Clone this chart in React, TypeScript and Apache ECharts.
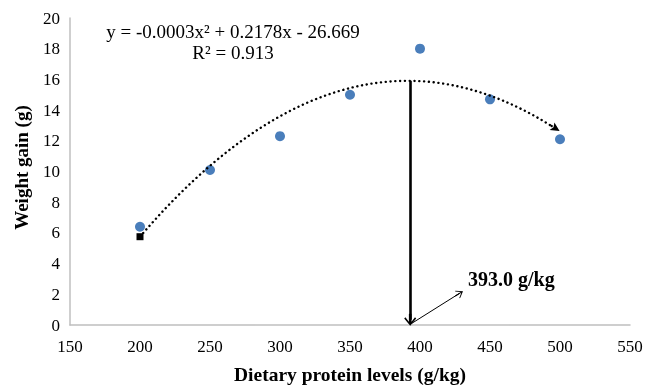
import React, { useEffect, useRef } from "react";
import * as echarts from "echarts";

const proteinLevels = [200, 250, 300, 350, 400, 450, 500];
const weightGain = [6.4, 10.1, 12.3, 15.0, 18.0, 14.7, 12.1];
const xTicks = { min: 150, max: 550, interval: 50 };
const yTicks = { min: 0, max: 20, interval: 2 };
const optimumLevel = 393;
const equationText = "y = -0.0003x² + 0.2178x - 26.669";
const r2Text = "R² = 0.913";
const optimumText = "393.0 g/kg";

// least-squares quadratic fit (trendline) from the data
function fitQuadratic(xs: number[], ys: number[]) {
  const s = [0, 0, 0, 0, 0];
  const t = [0, 0, 0];
  for (let i = 0; i < xs.length; i++) {
    let p = 1;
    for (let k = 0; k < 5; k++) {
      s[k] += p;
      if (k < 3) t[k] += p * ys[i];
      p *= xs[i];
    }
  }
  const M = [
    [s[0], s[1], s[2], t[0]],
    [s[1], s[2], s[3], t[1]],
    [s[2], s[3], s[4], t[2]],
  ];
  for (let c = 0; c < 3; c++) {
    for (let r = c + 1; r < 3; r++) {
      const f = M[r][c] / M[c][c];
      for (let k = c; k < 4; k++) M[r][k] -= f * M[c][k];
    }
  }
  const sol = [0, 0, 0];
  for (let r = 2; r >= 0; r--) {
    let v = M[r][3];
    for (let k = r + 1; k < 3; k++) v -= M[r][k] * sol[k];
    sol[r] = v / M[r][r];
  }
  return (x: number) => sol[0] + sol[1] * x + sol[2] * x * x;
}

const FONT = "'Liberation Serif', 'Times New Roman', serif";
const STEM_THICK =
  "path://M5,0 L10,6 L9,7 L6.1,3.3 L6.1,10 L3.9,10 L3.9,3.3 L1,7 L0,6 Z";
const STEM_THIN =
  "path://M5,0 L10,7 L9.3,7.6 L5.6,2.6 L5.6,10 L4.4,10 L4.4,2.6 L0.7,7.6 L0,7 Z";
const SOLID_HEAD = "path://M5,0 L10,10 L5,8 L0,10 Z";

export default function App() {
  const ref = useRef<HTMLDivElement>(null);
  useEffect(() => {
    if (!ref.current) return;
    const chart = echarts.init(ref.current, undefined, { renderer: "svg" });
    const f = fitQuadratic(proteinLevels, weightGain);
    const x0 = proteinLevels[0];
    const x1 = proteinLevels[proteinLevels.length - 1];
    const curve: number[][] = [];
    for (let x = x0; x <= x1 - 6; x += 2) curve.push([x, f(x)]);
    const peak = f(optimumLevel);

    chart.setOption({
      animation: false,
      grid: { left: 70, right: 18, top: 18, bottom: 62, outerBoundsMode: "none", containLabel: false },
      xAxis: {
        type: "value",
        min: xTicks.min,
        max: xTicks.max,
        interval: xTicks.interval,
        name: "Dietary protein levels (g/kg)",
        nameLocation: "middle",
        nameGap: 39,
        nameTextStyle: { fontFamily: FONT, fontSize: 19.5, fontWeight: "bold", color: "#000" },
        axisLine: { lineStyle: { color: "#bfbfbf", width: 1.5 } },
        axisTick: { show: false },
        splitLine: { show: false },
        axisLabel: { fontFamily: FONT, fontSize: 17, color: "#000", margin: 13 },
      },
      yAxis: {
        type: "value",
        min: yTicks.min,
        max: yTicks.max,
        interval: yTicks.interval,
        name: "Weight gain (g)",
        nameLocation: "middle",
        nameGap: 39,
        nameTextStyle: {
          fontFamily: FONT,
          fontSize: 19,
          fontWeight: "bold",
          color: "#000",
          padding: [0, 0, 0, 8],
        },
        axisLine: { show: true, lineStyle: { color: "#bfbfbf", width: 1.5 } },
        axisTick: { show: false },
        splitLine: { show: false },
        axisLabel: { fontFamily: FONT, fontSize: 17, color: "#000", margin: 10 },
      },
      series: [
        {
          type: "scatter",
          data: proteinLevels.map((x, i) => [x, weightGain[i]]),
          symbol: "circle",
          symbolSize: 10,
          itemStyle: { color: "#4a7ebb", opacity: 1 },
          z: 2,
        },
        {
          type: "line",
          data: curve,
          showSymbol: false,
          smooth: false,
          lineStyle: { color: "#000", width: 2.4, type: [0.1, 4.7], cap: "round" },
          z: 3,
        },
        {
          type: "scatter",
          data: [[x0, f(x0)]],
          symbol: "rect",
          symbolSize: 7,
          itemStyle: { color: "#000", opacity: 1 },
          z: 4,
        },
        {
          type: "lines",
          coordinateSystem: "cartesian2d",
          data: [{ coords: [curve[curve.length - 1], [x1 - 3, f(x1 - 3)]] }],
          symbol: ["none", SOLID_HEAD],
          symbolSize: 9,
          lineStyle: { color: "#000", width: 2.4, type: [0.1, 4.7], cap: "round", opacity: 1 },
          z: 4,
        },
        {
          type: "lines",
          coordinateSystem: "cartesian2d",
          data: [{ coords: [[optimumLevel, peak], [optimumLevel, 0.35]] }],
          symbol: ["none", STEM_THICK],
          symbolSize: 12,
          lineStyle: { color: "#000", width: 2.6, opacity: 1 },
          z: 5,
        },
        {
          type: "lines",
          coordinateSystem: "cartesian2d",
          data: [{ coords: [[optimumLevel + 1, 0.1], [428, 2.05]] }],
          symbol: ["none", STEM_THIN],
          symbolSize: 9,
          lineStyle: { color: "#000", width: 1, opacity: 1 },
          z: 5,
        },
      ],
      graphic: [
        {
          type: "text",
          x: 233,
          y: 31,
          style: {
            text: equationText,
            font: `19px ${FONT}`,
            fill: "#000",
            align: "center",
            verticalAlign: "middle",
          },
        },
        {
          type: "text",
          x: 233,
          y: 52,
          style: {
            text: r2Text,
            font: `19px ${FONT}`,
            fill: "#000",
            align: "center",
            verticalAlign: "middle",
          },
        },
        {
          type: "text",
          x: 468,
          y: 279,
          style: {
            text: optimumText,
            font: `bold 20px ${FONT}`,
            fill: "#000",
            align: "left",
            verticalAlign: "middle",
          },
        },
      ],
    });
    return () => chart.dispose();
  }, []);
  return (
    <div
      ref={ref}
      style={{ position: "fixed", left: 0, top: 0, width: 648, height: 387 }}
    />
  );
}
